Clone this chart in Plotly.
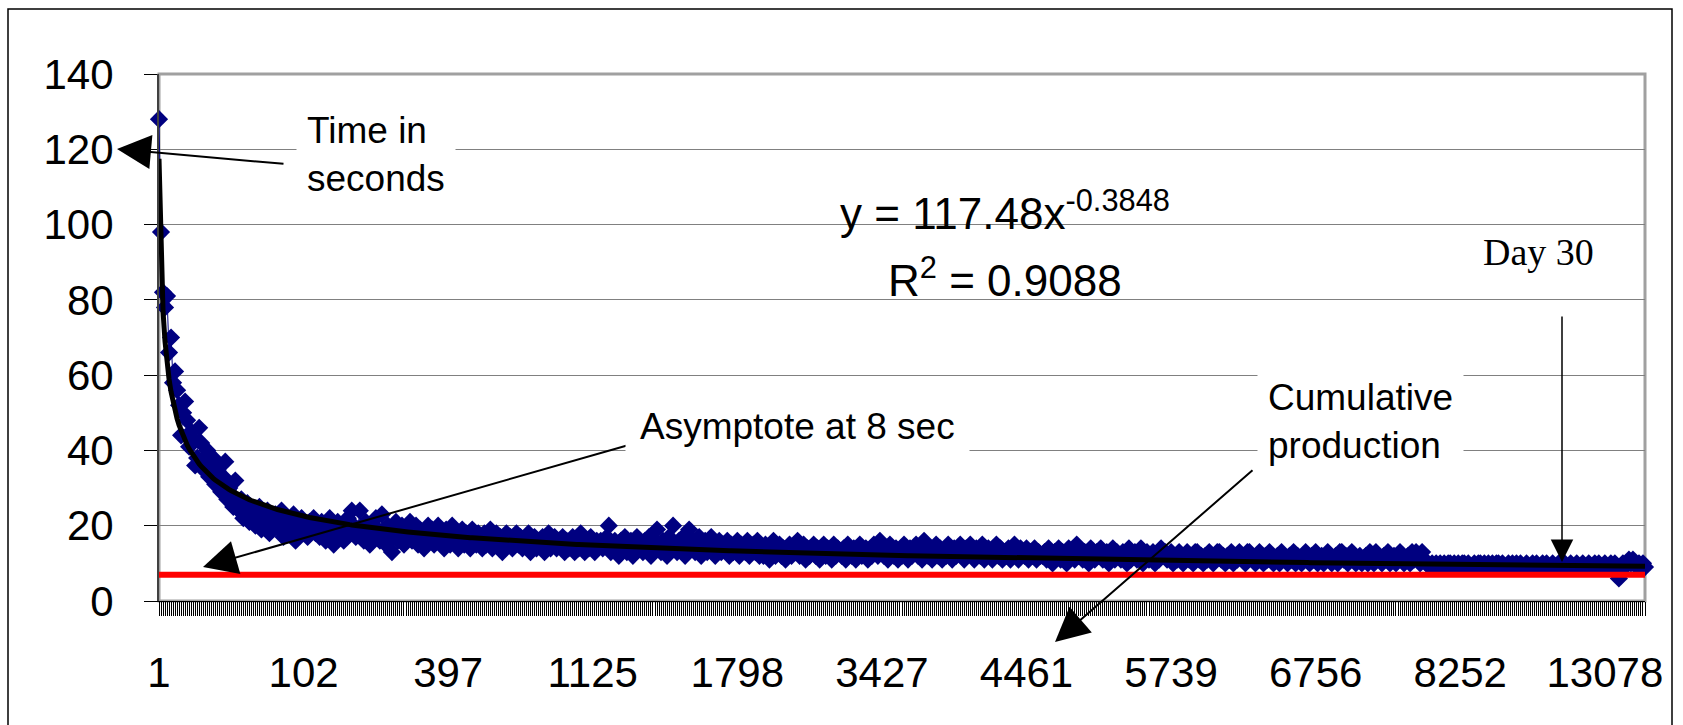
import plotly.graph_objects as go

# ---------------- data ----------------
tick_labels = ["1", "102", "397", "1125", "1798", "3427", "4461", "5739", "6756", "8252", "13078"]
label_step = 72  # one label every 72 categories

time_seconds = [
    128, 98, 82, 78, 81, 66, 70, 58, 61, 56, 52, 44, 50, 53, 48, 41, 45, 43, 36, 38,
    46, 42, 35, 38, 40, 33, 36, 38, 31, 35, 36, 29, 33, 37, 27, 30, 28, 25, 32, 26,
    24, 27, 22, 25, 26, 21, 23, 24, 20, 22, 25, 19, 23, 21, 24, 18, 22, 20, 23, 21,
    19, 24, 17, 21, 22, 18, 20, 23, 16, 21, 19, 22, 18, 20, 17, 21, 19, 22, 18, 20,
    17, 21, 19, 16, 20, 22, 18, 15, 19, 21, 17, 20, 16, 19, 22, 18, 24, 20, 17, 19,
    24, 19, 16, 21, 18, 15, 20, 17, 22, 19, 16, 23, 18, 15, 20, 17, 13, 19, 21, 16,
    18, 20, 15, 19, 17, 21, 16, 18, 20, 15, 19, 17, 14, 18, 20, 16, 19, 15, 17, 20,
    16, 18, 14, 19, 17, 15, 20, 16, 18, 14, 17, 19, 15, 18, 16, 14, 19, 17, 15, 18,
    16, 14, 18, 15, 17, 19, 14, 16, 18, 15, 17, 13, 16, 18, 15, 17, 14, 16, 18, 15,
    17, 14, 16, 15, 18, 13, 16, 17, 14, 16, 15, 17, 13, 16, 18, 14, 15, 17, 14, 16,
    15, 17, 13, 16, 14, 15, 17, 13, 16, 14, 18, 15, 13, 16, 14, 17, 15, 13, 16, 15,
    16, 14, 15, 17, 20, 13, 15, 16, 14, 12, 16, 15, 17, 13, 14, 16, 12, 15, 17, 14,
    15, 13, 16, 14, 17, 12, 15, 16, 19, 14, 13, 16, 15, 12, 17, 14, 20, 15, 13, 16,
    14, 17, 12, 15, 19, 14, 16, 13, 15, 17, 12, 14, 16, 13, 15, 17, 14, 12, 15, 16,
    13, 15, 14, 16, 12, 15, 13, 14, 16, 12, 15, 14, 13, 16, 12, 14, 15, 13, 16, 12,
    14, 12, 15, 13, 11, 14, 16, 12, 13, 15, 12, 14, 11, 13, 15, 12, 14, 13, 16, 12,
    13, 15, 11, 14, 12, 13, 15, 12, 14, 11, 13, 15, 12, 14, 13, 11, 15, 12, 14, 13,
    12, 14, 11, 15, 13, 12, 14, 11, 13, 15, 12, 13, 14, 11, 13, 12, 15, 14, 12, 16,
    13, 12, 14, 11, 15, 13, 12, 14, 11, 13, 12, 15, 13, 11, 14, 12, 13, 15, 12, 14,
    11, 16, 13, 12, 14, 11, 13, 15, 12, 14, 11, 13, 12, 15, 13, 11, 14, 12, 13, 15,
    12, 11, 14, 13, 15, 12, 11, 14, 13, 12, 15, 11, 13, 14, 12, 11, 13, 15, 12, 14,
    11, 13, 12, 14, 11, 13, 15, 12, 11, 14, 13, 12, 14, 11, 13, 12, 14, 11, 13, 12,
    12, 13, 11, 14, 12, 10, 13, 12, 14, 11, 13, 12, 10, 14, 12, 13, 11, 15, 12, 13,
    11, 13, 12, 10, 14, 12, 11, 13, 12, 14, 11, 12, 13, 10, 12, 14, 11, 13, 12, 11,
    13, 12, 10, 14, 11, 12, 13, 11, 12, 14, 10, 12, 13, 11, 12, 13, 10, 12, 11, 14,
    12, 13, 11, 12, 13, 10, 12, 11, 13, 12, 10, 12, 13, 11, 12, 10, 13, 13, 11, 12,
    10, 12, 11, 13, 12, 10, 11, 13, 13, 11, 12, 10, 12, 11, 13, 10, 12, 11, 13, 12,
    11, 10, 13, 13, 12, 11, 10, 12, 13, 11, 10, 12, 11, 13, 12, 10, 11, 12, 10, 13,
    12, 11, 10, 12, 11, 13, 10, 12, 11, 10, 12, 13, 11, 10, 12, 11, 13, 10, 11, 12,
    10, 11, 13, 12, 10, 11, 12, 10, 13, 13, 11, 12, 10, 11, 13, 12, 10, 11, 12, 10,
    11, 12, 10, 13, 11, 10, 13, 12, 11, 10, 12, 11, 13, 10, 11, 12, 10, 11, 13, 12,
    10, 11, 12, 10, 13, 11, 13, 12, 10, 13, 11, 10, 10, 9, 10, 9, 10, 9, 10, 9,
    10, 9, 10, 10, 9, 10, 9, 10, 9, 10, 10, 9, 10, 9, 9, 10, 9, 10, 10, 9,
    10, 9, 10, 9, 10, 9, 10, 10, 9, 10, 9, 9, 10, 9, 10, 9, 10, 9, 10, 9,
    9, 10, 9, 9, 10, 9, 10, 9, 9, 10, 9, 10, 9, 9, 10, 9, 9, 10, 9, 9,
    10, 9, 9, 10, 9, 9, 10, 9, 9, 10, 9, 9, 10, 9, 9, 10, 9, 10, 9, 9,
    10, 9, 9, 10, 9, 10, 9, 6, 9, 10, 9, 10, 11, 10, 11, 10, 9, 10, 9, 10, 9,
]

trend_a = 117.48
trend_b = -0.3848
asymptote = 7

# ---------------- derived ----------------
n = len(time_seconds)
unit_index = list(range(1, n + 1))
trend = [trend_a * i ** trend_b for i in unit_index]
tick_pos = [1 + label_step * k for k in range(len(tick_labels))]

# layout geometry (pixels)
W, H = 1683, 725
L, R, T, B = 159, 1645, 74, 601


def px(x):
    return (x - L) / (R - L)


def py(y):
    return (B - y) / (B - T)


SANS = "Liberation Sans, Arial, sans-serif"
SERIF = "Liberation Serif, Times New Roman, serif"

fig = go.Figure()
fig.add_trace(go.Scatter(
    x=unit_index, y=time_seconds, mode="lines+markers",
    line=dict(color="#000080", width=1),
    marker=dict(symbol="diamond", size=14, color="#000080"),
    cliponaxis=False, showlegend=False, hoverinfo="skip"))
fig.add_trace(go.Scatter(
    x=[unit_index[0], unit_index[-1]], y=[asymptote, asymptote], mode="lines",
    line=dict(color="#ff0000", width=6), cliponaxis=False, showlegend=False))
fig.add_trace(go.Scatter(
    x=unit_index, y=trend, mode="lines",
    line=dict(color="#000000", width=5), cliponaxis=False, showlegend=False))

annotations = []


def arrow(tip, tail, width=2, size=3.4):
    annotations.append(dict(
        x=px(tip[0]), y=py(tip[1]), xref="paper", yref="paper",
        ax=tail[0] - tip[0], ay=tail[1] - tip[1], axref="pixel", ayref="pixel",
        text="", showarrow=True, arrowhead=2, arrowsize=size, arrowwidth=width,
        arrowcolor="#000000", standoff=0))


def label(text, cx, cy, size=37, family=SANS, bg=None, pad=10, align="left"):
    annotations.append(dict(
        x=px(cx), y=py(cy), xref="paper", yref="paper", xanchor="center", yanchor="middle",
        text=text, showarrow=False, align=align,
        font=dict(family=family, size=size, color="#000000"),
        bgcolor=bg if bg else "rgba(0,0,0,0)", borderpad=pad))


arrow((117, 149), (285, 164))
arrow((203, 567), (632, 444))
arrow((1055, 642), (1254, 469))
arrow((1562, 562), (1562, 315), width=1.5, size=3.0)

label("Time in<br>seconds", 376, 154, bg="white", pad=10)
label("Asymptote at 8 sec", 797, 426, bg="white", pad=14)
label("Cumulative<br>production", 1360, 421, bg="white", pad=10)
label("y = 117.48x<sup>-0.3848</sup>", 1005, 210, size=44, pad=0)
label("R<sup>2</sup> = 0.9088", 1005, 277, size=44, pad=0)
label("Day 30", 1538, 252, size=38, family=SERIF, pad=0)

shapes = [
    dict(type="rect", xref="paper", yref="paper", x0=0, x1=1, y0=0, y1=1,
         line=dict(color="#a0a0a0", width=3), fillcolor="rgba(0,0,0,0)", layer="below"),
    dict(type="rect", xref="paper", yref="paper", x0=px(8), x1=px(1672), y0=py(760), y1=py(9),
         line=dict(color="#000000", width=1.5), fillcolor="rgba(0,0,0,0)", layer="above"),
]

fig.update_layout(
    width=W, height=H, autosize=False,
    margin=dict(l=L, r=W - R, t=T, b=H - B, pad=0),
    paper_bgcolor="white", plot_bgcolor="white",
    font=dict(family=SANS, size=42, color="#000000"),
    annotations=annotations, shapes=shapes, showlegend=False,
)
fig.update_xaxes(
    range=[1, n], tickmode="array", tickvals=tick_pos, ticktext=tick_labels,
    ticks="outside", ticklen=14, tickcolor="#000000", tickwidth=1,
    tickfont=dict(family=SANS, size=42), ticklabelstandoff=21,
    minor=dict(tickmode="linear", tick0=1, dtick=1, ticks="outside", ticklen=14,
               tickcolor="#000000", tickwidth=1, showgrid=False),
    showgrid=False, zeroline=False, showline=True, linecolor="#000000", linewidth=1,
)
fig.update_yaxes(
    range=[0, 140], tickmode="array", tickvals=[0, 20, 40, 60, 80, 100, 120, 140],
    ticks="outside", ticklen=13, tickcolor="#000000", tickwidth=1,
    tickfont=dict(family=SANS, size=42), ticklabelstandoff=22,
    showgrid=True, gridcolor="#808080", gridwidth=1,
    zeroline=False, showline=True, linecolor="#404040", linewidth=2,
)

fig.write_html("out.html", config={"displayModeBar": False},
               post_script="document.body.style.margin='0px';")
